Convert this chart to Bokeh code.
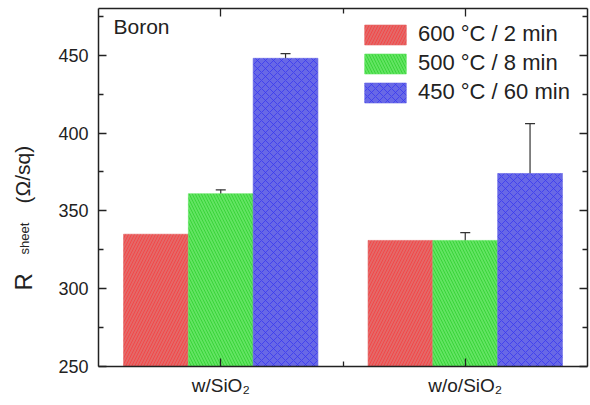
from bokeh.plotting import figure
from bokeh.layouts import row
from bokeh.models import (ColumnDataSource, Range1d, LinearAxis, FixedTicker, Label,
                          Legend, LegendItem, Whisker, TeeHead)
from bokeh.core.properties import value
from bokeh.transform import dodge
from bokeh.embed import file_html
from bokeh.resources import INLINE

# ---- data ----
samples = ["w/SiO₂", "w/o/SiO₂"]
series = ["600 °C / 2 min", "500 °C / 8 min", "450 °C / 60 min"]
r600 = [335, 331]
r500 = [361, 331]
r450 = [448, 374]
e600 = [0, 0]
e500 = [2.5, 5]
e450 = [3, 32]
y_ticks = [250, 300, 350, 400, 450]
y_minor = [275, 325, 375, 425, 475]
x_pos = [1, 2]
ytitle_parts = ["R", "sheet", "(Ω/sq)"]

FONT = "Liberation Sans"
TXT = "#222222"

LEFT_W = 45
H = 405
TOP_B = 8
BOT_B = 39

# ---- left strip holding the y-axis title (frame shares the main plot's top/bottom borders;
#      y range chosen so that data y == pixels from the bottom of the page) ----
lab = figure(width=LEFT_W, height=H, x_range=Range1d(0, LEFT_W),
             y_range=Range1d(BOT_B, H - TOP_B),
             x_axis_type=None, y_axis_type=None, output_backend="svg", toolbar_location=None,
             min_border_left=0, min_border_right=0, min_border_top=TOP_B,
             min_border_bottom=BOT_B)
lab.grid.visible = False
lab.outline_line_color = None
title_pos = [(23, H - 290, "24px"), (24, H - 254, "13px"), (22.5, H - 203, "21px")]
for txt, (bx, by, fs) in zip(ytitle_parts, title_pos):
    lab.text(x=[bx], y=[by], text=[txt], angle=1.5708, text_align="left",
             text_baseline="alphabetic", text_font=value(FONT), text_font_size=fs,
             text_color=TXT)

# ---- main plot ----
p = figure(width=590 - LEFT_W, height=H, x_range=Range1d(0.5, 2.5), y_range=Range1d(250, 480),
           output_backend="svg", toolbar_location=None,
           min_border_left=98 - LEFT_W, min_border_right=3, min_border_top=TOP_B,
           min_border_bottom=BOT_B)
p.grid.visible = False
p.outline_line_color = None


def style_axis(ax, labels=True):
    ax.axis_line_width = 1.5
    ax.axis_line_color = TXT
    ax.major_tick_in = 8
    ax.major_tick_out = 0
    ax.minor_tick_in = 5
    ax.minor_tick_out = 0
    ax.major_tick_line_color = TXT
    ax.minor_tick_line_color = TXT
    ax.major_tick_line_width = 1.3
    ax.minor_tick_line_width = 1.3
    if not labels:
        ax.major_label_text_color = None
        ax.major_label_text_font_size = "0px"
        ax.major_label_standoff = 0


p.xaxis.ticker = FixedTicker(ticks=x_pos, minor_ticks=[1.5])
p.xaxis.major_label_overrides = {x: s for x, s in zip(x_pos, samples)}
style_axis(p.xaxis[0])
p.xaxis.major_label_text_font = FONT
p.xaxis.major_label_text_font_size = "19px"
p.xaxis.major_label_text_color = TXT
p.xaxis.major_label_standoff = 8

p.yaxis.ticker = FixedTicker(ticks=y_ticks, minor_ticks=y_minor)
style_axis(p.yaxis[0])
p.yaxis.major_label_text_font = FONT
p.yaxis.major_label_text_font_size = "18px"
p.yaxis.major_label_text_color = TXT
p.yaxis.major_label_standoff = 10

top_ax = LinearAxis(ticker=FixedTicker(ticks=x_pos, minor_ticks=[1.5]))
style_axis(top_ax, labels=False)
p.add_layout(top_ax, "above")
right_ax = LinearAxis(ticker=FixedTicker(ticks=y_ticks, minor_ticks=y_minor))
style_axis(right_ax, labels=False)
p.add_layout(right_ax, "right")

src = ColumnDataSource(dict(x=x_pos, r600=r600, r500=r500, r450=r450))

w = 0.265
specs = [
    ("r600", e600, -w, "#E46868", "#F54040", "right_diagonal_line", 6),
    ("r500", e500, 0.0, "#62E462", "#30D030", "left_diagonal_line", 6),
    ("r450", e450, w, "#6868E6", "#3838F0", "diagonal_cross", 8),
]
renderers = []
for key, err, off, fc, hc, hp, hs in specs:
    r = p.vbar(x=dodge("x", off, range=p.x_range), top=key, bottom=250, width=w, source=src,
               fill_color=fc, line_color=fc, line_width=1, line_alpha=0.6,
               hatch_pattern=hp, hatch_color=hc, hatch_scale=hs, hatch_weight=1, hatch_alpha=0.8)
    renderers.append(r)

for key, err, off, *_ in specs:
    vals = src.data[key]
    if max(err) == 0:
        continue
    esrc = ColumnDataSource(dict(base=[x + off for x in x_pos],
                                 upper=[v + e for v, e in zip(vals, err)],
                                 lower=[v - e for v, e in zip(vals, err)]))
    wk = Whisker(source=esrc, base="base", upper="upper", lower="lower", dimension="height",
                 line_color="#333333", line_width=1.2,
                 upper_head=TeeHead(size=10, line_color="#333333", line_width=1.2),
                 lower_head=TeeHead(size=10, line_color="#333333", line_width=1.2))
    p.add_layout(wk)

legend = Legend(items=[LegendItem(label=s, renderers=[r]) for s, r in zip(series, renderers)],
                location=(261, 261), orientation="vertical",
                background_fill_alpha=0, border_line_color=None, padding=0, margin=0,
                spacing=3, glyph_width=52, glyph_height=25, label_height=25, label_standoff=7,
                label_text_font=FONT, label_text_font_size="22px", label_text_color=TXT)
p.add_layout(legend)

p.add_layout(Label(x=15, y=329, x_units="screen", y_units="screen", text="Boron",
                   text_font=FONT, text_font_size="21px", text_color=TXT))

layout = row(lab, p, spacing=0)
open("out.html", "w").write(file_html(layout, INLINE))
